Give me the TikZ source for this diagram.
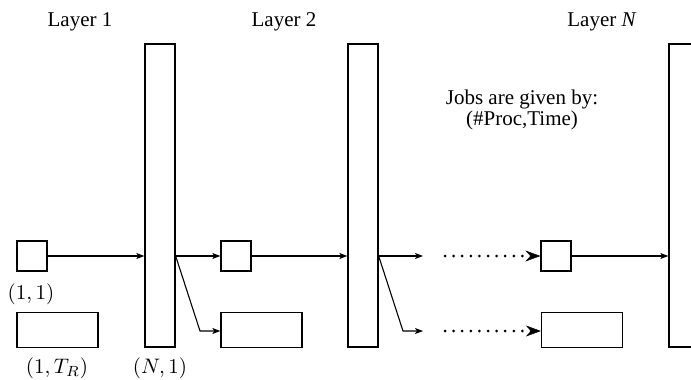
\documentclass[tikz,border=0pt]{standalone}
\usepackage[no-math]{fontspec}
\setmainfont{Liberation Serif}
\usetikzlibrary{arrows.meta}

\tikzset{
  box/.style={draw, line width=1.3pt, inner sep=0pt, minimum width=#1},
  bar/.style={draw, line width=1.3pt, inner sep=0pt, minimum width=30pt, minimum height=303pt},
  small/.style={box=30pt, minimum height=30pt},
  wide/.style={box=81pt, minimum height=35pt},
  txt/.style={font=\fontsize{21}{24}\selectfont, inner sep=0pt, anchor=base},
  lbl/.style={inner sep=0pt, scale=2.1},
  conn/.style={line width=1.1pt, -{Stealth[length=8pt,width=6pt,inset=2pt]}},
  dots/.style={line width=3pt, line cap=round, dash pattern=on 0pt off 8.6pt,
    -{Stealth[length=15pt,width=11pt,inset=5pt,line width=0.5pt]}}
}

\begin{document}
\begin{tikzpicture}[x=1pt,y=-1pt]
\useasboundingbox (0,0) rectangle (691,380);

% layer headings
\node[txt] (h1) at (80,27) {Layer 1};
\node[txt] (h2) at (284,27) {Layer 2};
\node[txt] (h3) at (602,27) {Layer \textit{N}};

% note on job notation
\node[txt, align=center, font=\fontsize{21}{18}\selectfont] (jobs) at (522,125)
  {Jobs are given by:\\(\#Proc,Time)};

% layer bars
\node[bar] (bar1) at (160,195.5) {};
\node[bar] (bar2) at (363,195.5) {};
\node[bar] (bar3) at (684,195.5) {};

% jobs in layer 1
\node[small] (s1) at (32,256) {};
\node[wide] (w1) at (57.5,330) {};
\node[lbl] (l11) at (31,294) {$(1,1)$};
\node[lbl] (l1T) at (57,368) {$(1,T_R)$};
\node[lbl] (lN1) at (160,368) {$(N,1)$};

% jobs in layer 2
\node[small] (s2) at (236,256) {};
\node[wide] (w2) at (261.5,330) {};

% jobs in layer N
\node[small] (s3) at (556,256) {};
\node[wide] (w3) at (582,330) {};

% connectors
\coordinate (b1o) at (bar1.east |- s1.east);
\coordinate (b2o) at (bar2.east |- s1.east);
\coordinate (k1) at (200,331);
\coordinate (k2) at (403,331);
\coordinate (e1) at (423,256);
\coordinate (e2) at (423,331);
\coordinate (d1) at (445,256);
\coordinate (d2) at (445,331);

\draw[conn] (s1.east) -- (bar1.west |- s1.east);
\draw[conn] (b1o) -- (s2.west);
\draw[conn] (b1o) -- (k1) -- (w2.west |- k1);
\draw[conn] (s2.east) -- (bar2.west |- s2.east);
\draw[conn] (b2o) -- (e1);
\draw[conn] (b2o) -- (k2) -- (e2);
\draw[dots] (d1) -- (s3.west);
\draw[dots] (d2) -- (w3.west |- d2);
\draw[conn] (s3.east) -- (bar3.west |- s3.east);
\end{tikzpicture}
\end{document}
